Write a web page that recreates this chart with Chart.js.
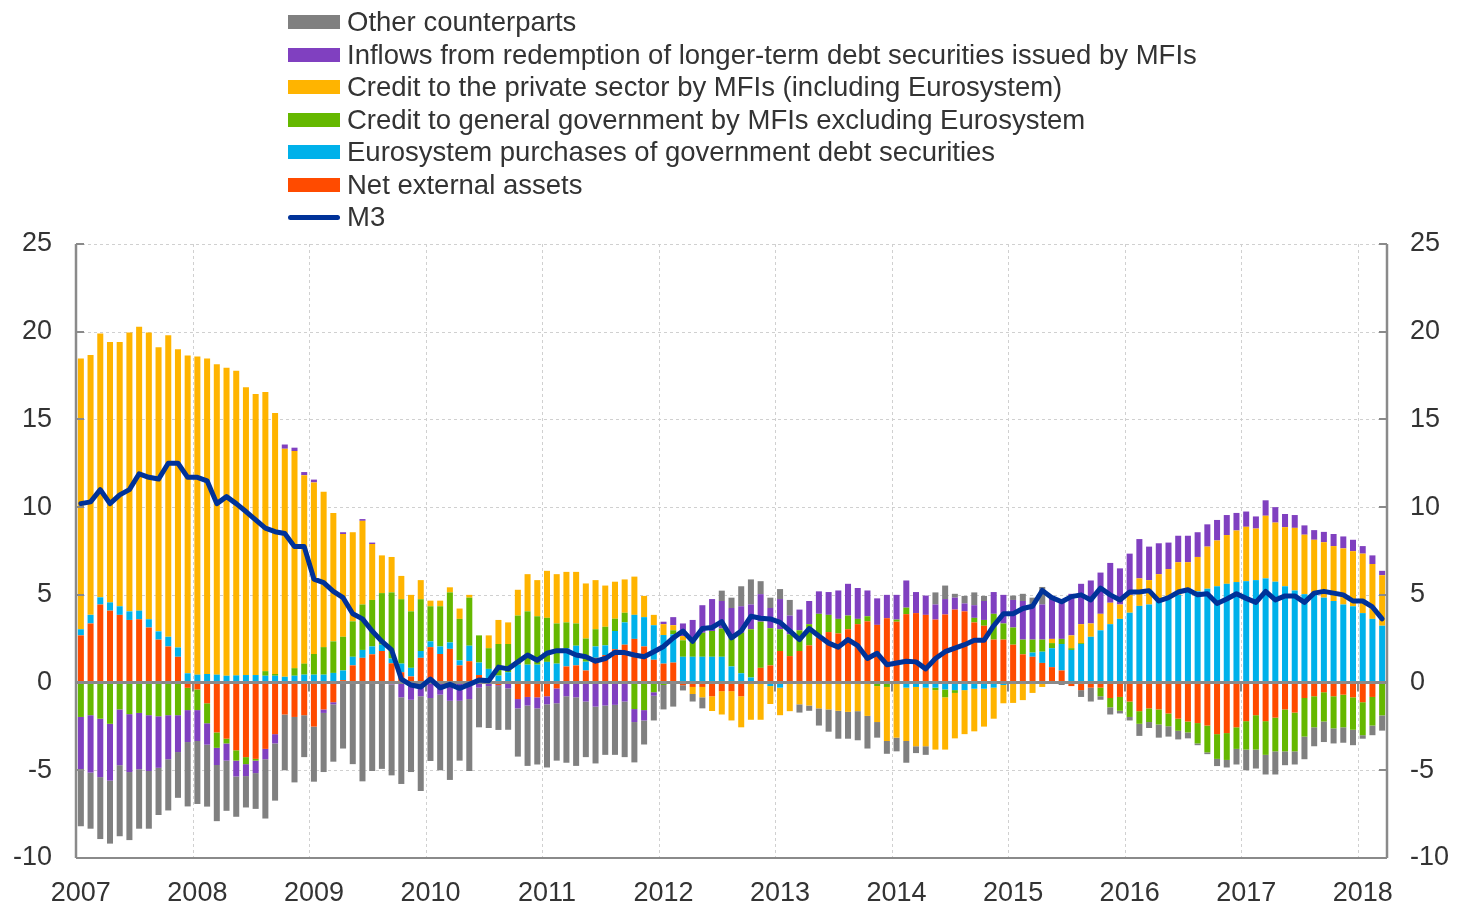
<!DOCTYPE html>
<html>
<head>
<meta charset="utf-8">
<script src="https://cdn.jsdelivr.net/npm/chart.js@4.4.0/dist/chart.umd.min.js"></script>
<style>
html,body{margin:0;padding:0;background:#fff;}
#wrap{position:relative;width:1457px;height:909px;overflow:hidden;}
#c{position:absolute;left:0;top:0;}
.leg{position:absolute;left:288px;height:32px;line-height:32px;font-family:"Liberation Sans",Arial,sans-serif;font-size:27.5px;color:#333;white-space:nowrap;}
.leg .sw{position:absolute;left:0;top:9px;width:52px;height:14px;}
.leg .ln{position:absolute;left:0;top:14px;width:52px;height:5px;border-radius:2.5px;}
.leg .t{position:absolute;left:59px;top:0;}
</style>
</head>
<body>
<div id="wrap"><canvas id="c" width="1457" height="909"></canvas><div id="legend"></div></div>
<script>
// ---------- DATA ----------
const years = [2007,2008,2009,2010,2011,2012,2013,2014,2015,2016,2017,2018];
const monthsInLastYear = 3;
const yTicks = [-10,-5,0,5,10,15,20,25];

const netExternal = [
 2.69,3.37,4.45,4.10,3.86,3.57,3.61,3.14,2.45,2.06,1.47,-0.30,
 -0.39,-1.18,-2.84,-3.20,-3.86,-4.25,-4.35,-3.78,-2.94,-1.82,-1.96,-1.86,
 -2.51,-1.53,-1.12,0.14,0.98,1.41,1.61,1.80,1.10,0.59,0.35,1.41,
 2.02,1.63,1.92,0.98,1.22,0.43,0,-0.15,0,-0.94,-0.82,-0.84,
 -0.78,-0.33,0.92,0.98,0.69,1.41,1.57,1.90,2.16,2.49,2.06,1.30,
 1.08,1.14,-0.15,-0.25,-0.25,-0.78,-0.49,-0.49,-0.78,0,0.84,0.98,
 1.80,1.51,1.80,2.12,2.55,2.88,2.80,3.04,3.33,3.49,3.29,3.67,
 3.47,3.90,3.96,3.86,3.59,3.88,4.16,4.06,3.43,3.24,2.45,2.45,
 2.16,1.61,1.47,1.12,0.88,0.69,-0.20,-0.43,-0.29,-0.29,-0.88,-0.82,
 -1.08,-1.63,-1.47,-1.53,-1.76,-2.06,-2.22,-2.31,-2.45,-2.94,-2.88,-2.55,
 -2.20,-1.86,-2.20,-2.00,-1.53,-1.71,-0.88,-0.78,-0.55,-0.78,-0.69,-0.84,
 -1.12,-0.82,-0.05];

const eurosystem = [
 0.35,0.49,0.41,0.47,0.49,0.49,0.49,0.47,0.47,0.55,0.53,0.53,
 0.45,0.49,0.45,0.39,0.41,0.43,0.43,0.39,0.39,0.33,0.39,0.45,
 0.45,0.45,0.55,0.55,0.49,0.45,0.45,0.36,0.27,0.49,0.49,0.39,
 0.33,0.43,0.37,0.29,0.88,0.71,0.78,0.40,0.59,1.02,1.02,1.02,
 1.18,1.08,1.04,1.12,0.50,0.65,0.55,1.04,1.27,1.37,1.67,1.97,
 1.63,1.61,1.47,1.47,1.47,1.47,1.47,0.92,0.53,0.29,0,-0.20,
 -0.29,0,0,0,0,0,0,0,0,0,0,0,
 0,-0.29,-0.25,-0.29,-0.29,-0.39,-0.43,-0.43,-0.35,-0.35,-0.29,-0.14,
 -0.08,-0.08,0.24,0.64,1.08,1.51,1.86,2.20,2.61,2.98,3.33,3.63,
 3.98,4.37,4.45,4.61,4.76,5.00,5.35,5.20,5.35,5.49,5.63,5.73,
 5.78,5.84,5.94,5.75,5.49,5.25,5.04,5.00,4.84,4.65,4.45,4.35,
 3.96,3.63,3.24];

const creditGov = [
 -1.96,-1.86,-2.06,-2.35,-1.53,-1.80,-1.73,-1.86,-1.92,-1.86,-1.86,-1.27,
 -1.18,-1.14,-0.88,-0.27,-0.59,-0.40,-0.10,0.26,0.10,0,0.43,0.63,
 1.18,1.57,1.80,1.92,2.02,2.59,2.65,2.94,3.77,3.67,3.22,2.95,
 2.00,2.29,2.85,2.36,2.74,1.55,1.18,1.80,1.61,2.80,3.04,2.76,
 2.51,2.29,1.47,1.27,1.32,0.98,1.06,0.70,0.55,-1.51,-1.57,-0.55,
 -0.14,0.23,0.94,0.88,1.37,1.47,1.61,1.63,2.31,2.75,2.63,2.12,
 1.24,1.24,1.18,1.21,1.37,0.98,0.83,0.78,0.30,0.29,-0.20,-0.25,
 0.12,0.37,0,0,-0.14,-0.45,-0.16,0,0.26,0.33,1.47,0.92,
 0.98,0.84,0.74,0.69,0.29,0.29,0.10,0.05,0,-0.49,-0.53,-0.79,
 -0.88,-0.72,-0.78,-0.86,-0.73,-0.69,-0.62,-1.16,-1.53,-1.41,-1.53,-1.23,
 -1.62,-1.96,-1.92,-1.92,-2.39,-2.21,-2.20,-1.77,-1.67,-1.83,-1.86,-1.85,
 -1.88,-1.63,-1.82];

const creditPrivate = [
 15.43,14.81,15.04,14.84,15.06,15.90,16.19,16.35,16.20,17.19,17.00,18.12,
 18.14,17.98,17.69,17.55,17.37,16.41,16.02,15.92,14.88,13.00,12.38,10.74,
 9.78,8.86,7.32,5.86,5.08,4.77,3.19,2.15,2.02,1.33,0.94,1.09,
 0.32,0.32,0.29,0.59,0.16,0,0.73,1.37,1.23,1.47,2.12,2.06,
 2.68,2.81,2.88,2.94,3.14,2.80,2.35,2.11,1.90,2.18,1.21,0.59,
 0.62,0.29,0.24,-0.40,-0.59,-0.84,-1.33,-1.67,-1.77,-2.12,-2.12,-1.02,
 -1.57,-1.63,-1.24,-1.31,-1.47,-1.53,-1.61,-1.67,-1.63,-1.90,-2.05,-3.08,
 -3.14,-3.04,-3.38,-3.34,-3.39,-2.98,-2.59,-2.51,-2.43,-2.16,-1.77,-1.04,
 -1.08,-0.92,-0.59,-0.25,0.24,0,0.73,1.08,0.76,0.94,1.22,0.82,
 1.02,1.57,1.39,1.57,1.71,1.86,1.51,1.96,2.40,2.61,2.78,2.94,
 3.10,2.94,3.57,3.37,3.37,3.57,3.39,3.14,3.16,3.13,3.20,3.14,
 3.39,3.13,2.88];

const inflows = [
 -2.98,-3.27,-3.33,-3.24,-3.18,-3.30,-3.21,-3.18,-2.94,-2.51,-2.10,-1.82,
 -1.76,-1.22,-0.98,-0.98,-0.90,-0.68,-0.71,-0.59,-0.53,0.24,0.19,0.18,
 0.16,-0.20,-0.12,0.10,0,0.10,0.08,0,-0.10,-0.84,-0.98,-0.78,
 -0.88,-0.69,-1.04,-1.04,-0.94,-0.29,-0.20,-0.05,-0.33,-0.53,-0.49,-0.63,
 -0.46,-0.85,-0.78,-0.84,-1.08,-1.37,-1.31,-1.27,-1.08,-0.74,-0.59,-0.20,
 0.14,0.46,0.72,1.22,1.57,1.82,1.57,1.70,1.51,1.41,1.57,1.15,
 1.72,1.07,1.18,1.32,1.28,1.30,1.62,1.81,1.76,1.47,1.51,1.33,
 1.41,1.55,1.20,1.10,0.86,0.88,0.68,0.45,0.72,1.08,1.24,1.63,
 1.57,2.20,1.96,2.00,2.35,2.16,2.37,2.30,2.45,2.35,2.27,2.06,
 2.35,2.24,1.91,1.76,1.51,1.51,1.51,1.41,1.27,1.17,1.14,1.00,
 0.87,0.69,0.88,0.88,0.75,0.73,0.53,0.55,0.59,0.69,0.68,0.65,
 0.43,0.49,0.25];

const otherCounterparts = [
 -3.25,-3.20,-3.53,-3.59,-4.05,-3.88,-3.39,-3.29,-2.69,-2.92,-2.61,-3.67,
 -3.59,-3.53,-3.20,-2.86,-2.30,-1.79,-2.04,-3.38,-3.26,-3.18,-3.73,-2.39,
 -3.14,-3.37,-3.27,-3.76,-4.65,-5.63,-5.04,-4.92,-5.19,-4.94,-4.12,-5.40,
 -3.59,-4.31,-4.51,-3.41,-4.10,-2.26,-2.39,-2.50,-2.36,-2.75,-3.44,-3.20,
 -3.60,-3.27,-3.79,-3.91,-3.17,-3.24,-2.81,-2.85,-3.17,-2.30,-1.37,-1.41,
 -1.39,-1.37,-0.30,-0.43,-0.63,0,0.59,0.59,1.14,1.43,0.74,0.59,
 0.57,0.89,-0.47,-0.30,-0.98,-1.27,-1.59,-1.53,-1.66,-1.86,-0.89,-0.73,
 -0.78,-1.24,-0.39,-0.49,0.69,0.77,0.22,0.43,0.73,0.29,0,0,
 0.25,0.41,0.43,1.00,0,-0.14,0,-0.39,-0.79,-0.20,-0.41,-0.15,
 -0.20,-0.69,-0.34,-0.75,-0.59,-0.49,-0.34,-0.10,-0.10,-0.41,-0.43,-0.89,
 -1.18,-1.08,-1.12,-1.32,-0.79,-0.75,-1.29,-1.08,-1.17,-0.86,-0.88,-0.88,
 -0.20,-0.55,-0.87];

const m3 = [
 10.2,10.3,11.0,10.2,10.7,11.0,11.9,11.7,11.6,12.5,12.5,11.7,
 11.7,11.5,10.2,10.6,10.2,9.75,9.27,8.8,8.6,8.5,7.75,7.75,
 5.9,5.7,5.2,4.84,3.92,3.63,2.94,2.35,1.86,0.2,-0.14,-0.25,
 0.2,-0.3,-0.1,-0.33,-0.1,0.14,0.1,0.88,0.78,1.18,1.57,1.27,
 1.67,1.82,1.82,1.57,1.47,1.22,1.37,1.73,1.71,1.57,1.47,1.76,
 2.06,2.55,2.94,2.35,3.08,3.14,3.47,2.55,2.94,3.78,3.67,3.63,
 3.43,2.94,2.45,3.08,2.65,2.25,2.02,2.45,2.1,1.37,1.67,1.02,
 1.12,1.22,1.18,0.78,1.37,1.76,1.96,2.16,2.41,2.41,3.24,3.92,
 3.92,4.22,4.35,5.25,4.84,4.61,4.9,5.0,4.71,5.39,5.0,4.71,
 5.16,5.16,5.24,4.65,4.84,5.16,5.29,5.0,5.06,4.51,4.76,5.06,
 4.8,4.57,5.2,4.71,4.94,4.94,4.57,5.1,5.2,5.1,5.0,4.65,
 4.65,4.31,3.63];

// ---------- BUILD ----------
const categories = [];
years.forEach((yr, k) => {
  const n = (k === years.length - 1) ? monthsInLastYear : 12;
  for (let j = 1; j <= n; j++) categories.push(yr + '-' + String(j).padStart(2, '0'));
});

const FONT = '"Liberation Sans", Arial, sans-serif';
const TEXT = '#333333';
const AXIS = '#8a8a8a';

const barSeries = [
  {label:'Net external assets', data:netExternal, color:'#FF4B00'},
  {label:'Eurosystem purchases of government debt securities', data:eurosystem, color:'#00B1EA'},
  {label:'Credit to general government by MFIs excluding Eurosystem', data:creditGov, color:'#65B800'},
  {label:'Credit to the private sector by MFIs (including Eurosystem)', data:creditPrivate, color:'#FFB400'},
  {label:'Inflows from redemption of longer-term debt securities issued by MFIs', data:inflows, color:'#8040C0'},
  {label:'Other counterparts', data:otherCounterparts, color:'#808080'}
];
const lineSeries = {label:'M3', data:m3, color:'#003299'};

const datasets = [{
  type:'line', label:lineSeries.label, data:lineSeries.data, stack:'m3',
  borderColor:lineSeries.color, borderWidth:5, pointRadius:0, tension:0,
  borderJoinStyle:'round', borderCapStyle:'round', fill:false, order:0
}].concat(barSeries.map(s => ({
  type:'bar', label:s.label, data:s.data, backgroundColor:s.color, borderWidth:0,
  stack:'counterparts', barPercentage:0.62, categoryPercentage:1.0, order:1
})));

// legend (HTML, generated from series definitions)
const legendItems = barSeries.slice().reverse().concat([lineSeries]);
const legEl = document.getElementById('legend');
legendItems.forEach((s, i) => {
  const d = document.createElement('div');
  d.className = 'leg';
  d.style.top = (6 + i * 32.5) + 'px';
  const isLine = s === lineSeries;
  d.innerHTML = '<div class="' + (isLine ? 'ln' : 'sw') + '" style="background:' + s.color + '"></div><span class="t"></span>';
  d.querySelector('.t').textContent = s.label;
  legEl.appendChild(d);
});

const decor = {
  id:'decor',
  beforeDatasetsDraw(chart){
    const {ctx, chartArea:a} = chart, x = chart.scales.x, y = chart.scales.y;
    const half = (x.getPixelForValue(1) - x.getPixelForValue(0)) / 2;
    ctx.save();
    ctx.strokeStyle = '#d0d0d0'; ctx.lineWidth = 1; ctx.setLineDash([3,3]);
    yTicks.forEach(v => {
      if (v === 0 || v === yTicks[0]) return;
      const py = Math.round(y.getPixelForValue(v)) + 0.5;
      ctx.beginPath(); ctx.moveTo(a.left, py); ctx.lineTo(a.right, py); ctx.stroke();
    });
    for (let i = 12; i < categories.length; i += 12) {
      const px = Math.round(x.getPixelForValue(i) - half) + 0.5;
      ctx.beginPath(); ctx.moveTo(px, a.top); ctx.lineTo(px, a.bottom); ctx.stroke();
    }
    ctx.restore();
  },
  beforeDatasetDraw(chart, args){
    if (args.meta.type !== 'line') return;
    const {ctx, chartArea:a} = chart, x = chart.scales.x, y = chart.scales.y;
    const half = (x.getPixelForValue(1) - x.getPixelForValue(0)) / 2;
    const y0 = y.getPixelForValue(0);
    ctx.save();
    ctx.strokeStyle = AXIS; ctx.lineWidth = 3;
    ctx.beginPath(); ctx.moveTo(a.left, y0); ctx.lineTo(a.right, y0); ctx.stroke();
    ctx.lineWidth = 2;
    for (let i = 12; i < categories.length; i += 12) {
      const px = Math.round(x.getPixelForValue(i) - half);
      ctx.beginPath(); ctx.moveTo(px, y0); ctx.lineTo(px, y0 + 9); ctx.stroke();
    }
    ctx.restore();
  },
  afterDraw(chart){
    const {ctx, chartArea:a} = chart, y = chart.scales.y;
    ctx.save();
    ctx.strokeStyle = AXIS; ctx.lineWidth = 2.5;
    ctx.beginPath();
    ctx.moveTo(a.left, a.top); ctx.lineTo(a.left, a.bottom);
    ctx.moveTo(a.right, a.top); ctx.lineTo(a.right, a.bottom);
    ctx.stroke();
    ctx.lineWidth = 2;
    ctx.beginPath(); ctx.moveTo(a.left, a.bottom); ctx.lineTo(a.right, a.bottom); ctx.stroke();
    yTicks.forEach(v => {
      const py = Math.round(y.getPixelForValue(v));
      ctx.beginPath();
      ctx.moveTo(a.left, py); ctx.lineTo(a.left + 8, py);
      ctx.moveTo(a.right, py); ctx.lineTo(a.right - 8, py);
      ctx.stroke();
    });
    ctx.restore();
  }
};

const tickFont = {family:FONT, size:27};

new Chart(document.getElementById('c'), {
  type:'bar',
  data:{labels:categories, datasets:datasets},
  options:{
    responsive:false, animation:false, devicePixelRatio:1,
    layout:{padding:{top:244, bottom:0, left:0, right:0}},
    plugins:{legend:{display:false}, tooltip:{enabled:false}},
    scales:{
      x:{
        stacked:true, offset:true,
        grid:{display:false, drawTicks:false}, border:{display:false},
        ticks:{autoSkip:false, maxRotation:0, minRotation:0, padding:19, font:tickFont, color:TEXT,
          callback:(v, i) => (i % 12 === 0) ? String(years[i / 12]) : ''},
        afterFit(s){ s.height = 51; }
      },
      y:{
        stacked:true, min:yTicks[0], max:yTicks[yTicks.length - 1], position:'left',
        grid:{display:false, drawTicks:false}, border:{display:false},
        ticks:{stepSize:5, padding:24, font:tickFont, color:TEXT},
        afterFit(s){ s.width = 76; }
      },
      y2:{
        min:yTicks[0], max:yTicks[yTicks.length - 1], position:'right',
        grid:{display:false, drawTicks:false}, border:{display:false},
        ticks:{stepSize:5, padding:23, font:tickFont, color:TEXT},
        afterFit(s){ s.width = 70; }
      }
    }
  },
  plugins:[decor]
});
</script>
</body>
</html>
